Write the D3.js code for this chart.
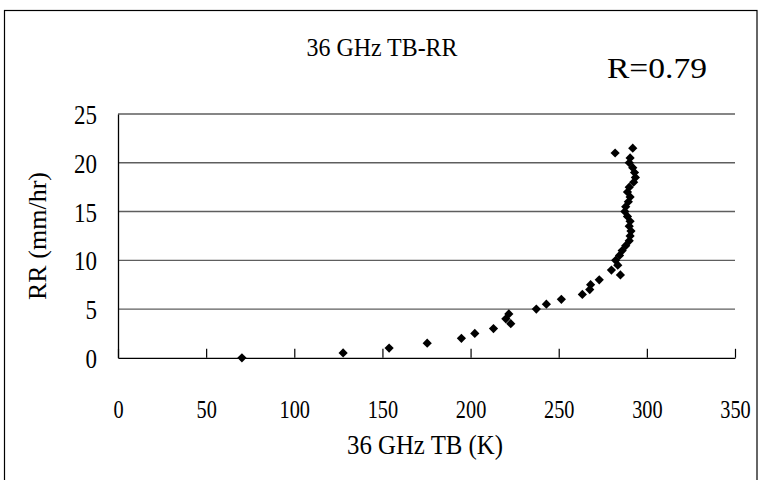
<!DOCTYPE html>
<html>
<head>
<meta charset="utf-8">
<script src="https://cdn.jsdelivr.net/npm/d3@7"></script>
<style>
  html, body { margin: 0; padding: 0; background: #fff; }
  svg { display: block; }
  text { font-family: "Liberation Serif", "Times New Roman", serif; fill: #000; }
</style>
</head>
<body>
<svg id="chart" width="758" height="480"></svg>
<script>
// Rain rate bins (mm/hr) and the mean 36 GHz brightness temperature (K) in each bin
const rainRate = [
  0, 0.5, 1, 1.5, 2, 2.5, 3, 3.5, 4, 4.5,
  5, 5.5, 6, 6.5, 7, 7.5, 8, 8.5, 9, 9.5,
  10, 10.5, 11, 11.5, 12, 12.5, 13, 13.5, 14, 14.5,
  15, 15.5, 16, 16.5, 17, 17.5, 18, 18.5, 19, 19.5,
  20, 20.5, 21, 21.5
];
const tb36 = [
  70.3, 127.7, 153.8, 175.4, 194.8, 202.4, 213, 222.8, 220, 221.7,
  237.3, 243, 251.5, 263.4, 267.6, 268.1, 273, 285, 279.9, 283.5,
  282.3, 284.5, 286, 288, 290, 290.5, 291, 290, 290.5, 289,
  287.5, 288, 289.5, 290.5, 289, 290, 292.5, 293.5, 293, 292,
  290, 290.5, 282, 292
];
const xTicks = [0, 50, 100, 150, 200, 250, 300, 350];
const yTicks = [0, 5, 10, 15, 20, 25];
const titleText = "36 GHz TB-RR";
const corrText = "R=0.79";
const xLabel = "36 GHz TB (K)";
const yLabel = "RR (mm/hr)";

const SERIF = '"Liberation Serif", "Times New Roman", serif';
const svg = d3.select("#chart");
const W = 758, H = 480;
const plot = { left: 118, right: 735, top: 114, bottom: 357.8 };

// narrow the glyphs horizontally so the serif face reads tall and condensed
function condense(sel, factor) {
  sel.each(function () {
    const w = this.getComputedTextLength();
    d3.select(this).attr("textLength", w * factor).attr("lengthAdjust", "spacingAndGlyphs");
  });
}
function fitWidth(sel, width) {
  sel.attr("textLength", width).attr("lengthAdjust", "spacingAndGlyphs");
}

// outer frame
svg.append("rect")
  .attr("x", 4.5).attr("y", 10.5)
  .attr("width", W - 5.5).attr("height", H)
  .attr("fill", "#fff").attr("stroke", "#000").attr("stroke-width", 1.2);

const x = d3.scaleLinear().domain([0, 350]).range([plot.left, plot.right]);
const y = d3.scaleLinear().domain([0, 25]).range([plot.bottom, plot.top]);

// horizontal gridlines
svg.append("g")
  .selectAll("line")
  .data(yTicks.filter(d => d > 0))
  .join("line")
  .attr("x1", plot.left).attr("x2", plot.right)
  .attr("y1", d => y(d)).attr("y2", d => y(d))
  .attr("stroke", "#5e5e5e").attr("stroke-width", 1.3);

// x axis with inward ticks
const xAxis = svg.append("g")
  .attr("transform", `translate(0,${plot.bottom})`)
  .attr("font-family", SERIF)
  .call(d3.axisBottom(x).tickValues(xTicks).tickSize(-9).tickSizeOuter(0).tickPadding(0));
xAxis.select(".domain").attr("stroke", "#000").attr("stroke-width", 1.3);
xAxis.selectAll(".tick line").attr("stroke", "#000").attr("stroke-width", 1.2);
xAxis.selectAll(".tick text")
  .style("font-family", SERIF)
  .attr("font-size", 26).attr("fill", "#000")
  .attr("y", 60).attr("dy", null)
  .call(condense, 0.78);

// y axis
const yAxis = svg.append("g")
  .attr("transform", `translate(${plot.left},0)`)
  .attr("font-family", SERIF)
  .call(d3.axisLeft(y).tickValues(yTicks).tickSize(0).tickSizeOuter(0).tickPadding(21));
yAxis.select(".domain").attr("stroke", "#000").attr("stroke-width", 1.3);
yAxis.selectAll(".tick text")
  .style("font-family", SERIF)
  .attr("font-size", 28).attr("fill", "#000")
  .attr("dy", "0.34em")
  .call(condense, 0.82);

// data markers (diamonds)
svg.append("g")
  .selectAll("path")
  .data(rainRate.map((r, i) => ({ r, t: tb36[i] })))
  .join("path")
  .attr("d", d3.symbol(d3.symbolDiamond2 || d3.symbolDiamond, 54))
  .attr("transform", d => `translate(${x(d.t)},${y(d.r)})`)
  .attr("fill", "#000");

// title, correlation and axis titles
svg.append("text")
  .attr("x", 382).attr("y", 56)
  .attr("text-anchor", "middle").attr("font-size", 26)
  .style("font-family", SERIF)
  .text(titleText)
  .call(fitWidth, 151);

svg.append("text")
  .attr("x", 657).attr("y", 78)
  .attr("text-anchor", "middle").attr("font-size", 30)
  .style("font-family", SERIF)
  .text(corrText)
  .call(fitWidth, 100);

svg.append("text")
  .attr("x", 425).attr("y", 454)
  .attr("text-anchor", "middle").attr("font-size", 27)
  .style("font-family", SERIF)
  .text(xLabel)
  .call(fitWidth, 156);

svg.append("text")
  .attr("transform", "translate(46,236) rotate(-90)")
  .attr("text-anchor", "middle").attr("font-size", 26)
  .style("font-family", SERIF)
  .text(yLabel)
  .call(fitWidth, 128);
</script>
</body>
</html>
